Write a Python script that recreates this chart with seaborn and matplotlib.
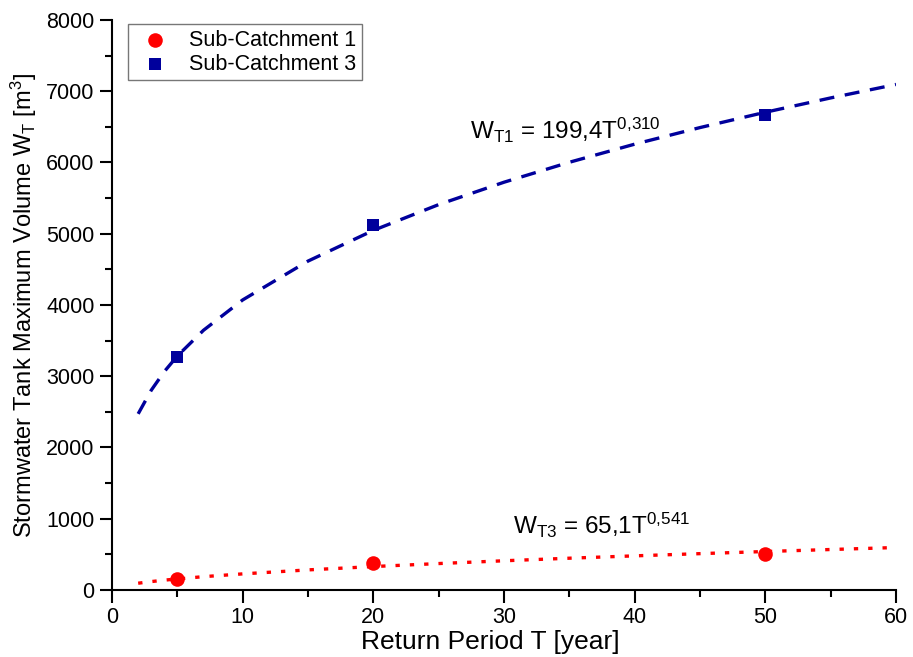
import matplotlib
matplotlib.use("Agg")
import matplotlib.pyplot as plt
import seaborn as sns
import pandas as pd
from matplotlib.ticker import MultipleLocator

# Observed points
T_points = [5, 20, 50]
sc1_points = [150, 385, 500]
sc3_points = [3270, 5120, 6660]

# Trend curves
T_curve = [2, 3, 4, 5, 7, 10, 15, 20, 25, 30, 35, 40, 45, 50, 55, 60]
sc3_curve = [2472, 2803, 3065, 3284, 3645, 4071, 4616, 5047, 5409, 5723, 6003, 6257, 6490, 6705, 6906, 7095]
sc1_curve = [95, 118, 138, 155, 187, 226, 282, 329, 371, 410, 446, 479, 510, 540, 568, 596]

sns.set_theme(style="ticks")
plt.rcParams['font.family'] = ['Liberation Sans', 'DejaVu Sans']
plt.rcParams['mathtext.fontset'] = 'custom'
plt.rcParams['mathtext.rm'] = 'Liberation Sans'
plt.rcParams['mathtext.it'] = 'Liberation Sans'
plt.rcParams['text.color'] = 'black'
plt.rcParams['axes.labelcolor'] = 'black'
plt.rcParams['xtick.color'] = 'black'
plt.rcParams['ytick.color'] = 'black'

fig = plt.figure(figsize=(9.13, 6.57), dpi=100)
ax = fig.add_axes([0.1227, 0.1020, 0.8587, 0.8676])

red = "#FF0000"
blue = "#00009C"

df_c = pd.DataFrame({"T": T_curve, "sc1": sc1_curve, "sc3": sc3_curve})
sns.lineplot(data=df_c, x="T", y="sc3", ax=ax, color=blue, lw=2.4,
             linestyle=(0, (4.5, 3.2)), legend=False)
sns.lineplot(data=df_c, x="T", y="sc1", ax=ax, color=red, lw=2.4,
             linestyle=(0, (1.3, 3)), legend=False)

df_p = pd.DataFrame({"T": T_points, "sc1": sc1_points, "sc3": sc3_points})
sns.scatterplot(data=df_p, x="T", y="sc1", ax=ax, color=red, marker="o", s=110,
                edgecolor=red, linewidth=0, label="Sub-Catchment 1", zorder=5)
sns.scatterplot(data=df_p, x="T", y="sc3", ax=ax, color=blue, marker="s", s=75,
                edgecolor=blue, linewidth=0, label="Sub-Catchment 3", zorder=5)

ax.set_xlim(0, 60)
ax.set_ylim(0, 8000)
ax.xaxis.set_major_locator(MultipleLocator(10))
ax.xaxis.set_minor_locator(MultipleLocator(5))
ax.yaxis.set_major_locator(MultipleLocator(1000))
ax.yaxis.set_minor_locator(MultipleLocator(500))
ax.tick_params(which='major', length=9, width=1.5, labelsize=15.5, direction='out', color='black')
ax.tick_params(which='minor', length=5, width=1.5, direction='out', color='black')
for s in ['left', 'bottom']:
    ax.spines[s].set_linewidth(1.5)
    ax.spines[s].set_color('black')
sns.despine(ax=ax)

ax.set_xlabel("Return Period T [year]", fontsize=19, labelpad=1)
ax.xaxis.label.set_x(0.483)
ax.set_ylabel(r"Stormwater Tank Maximum Volume W$_\mathregular{T}$ [m$^\mathregular{3}$]",
              fontsize=17, labelpad=5)

ax.text(470, 657 - 130, r"W$_\mathregular{T1}$ = 199,4T$^\mathregular{0{,}310}$", transform=None,
        fontsize=17.5, va='center', ha='left')
ax.text(513, 657 - 525, r"W$_\mathregular{T3}$ = 65,1T$^\mathregular{0{,}541}$", transform=None,
        fontsize=17.5, va='center', ha='left')

leg = ax.legend(loc='upper left', bbox_to_anchor=(0.015, 1.0), fontsize=15.5,
                frameon=True, fancybox=False, edgecolor='#555555',
                handletextpad=0.6, borderpad=0.25, labelspacing=0.15, handlelength=2.0,
                borderaxespad=0.2)
leg.get_frame().set_linewidth(1.0)

fig.savefig("out.png", dpi=100)
